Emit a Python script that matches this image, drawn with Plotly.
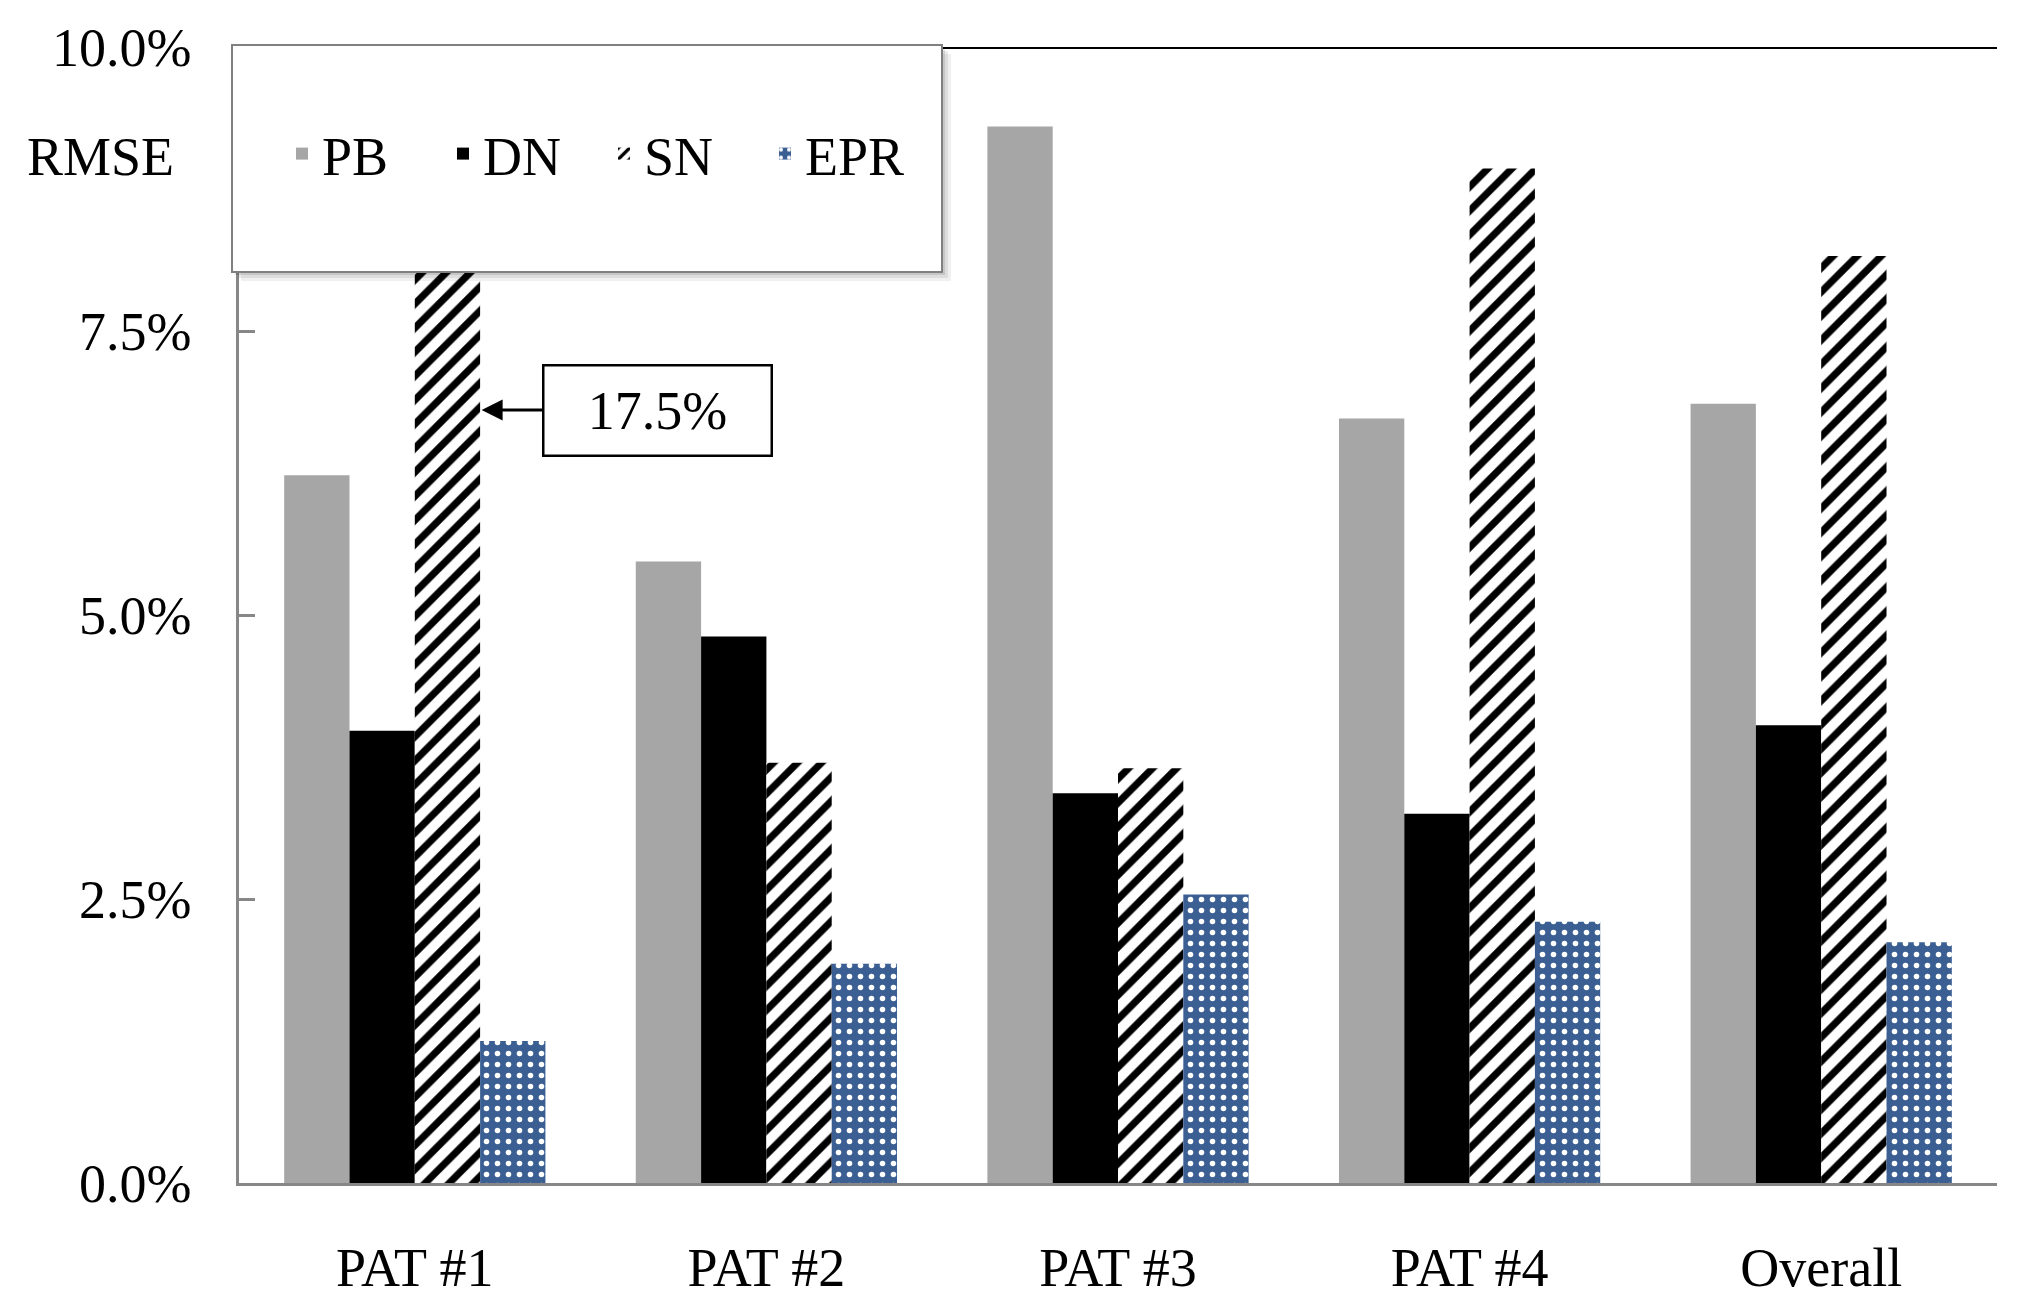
import plotly.graph_objects as go

categories = ["PAT #1", "PAT #2", "PAT #3", "PAT #4", "Overall"]
pb = [6.23, 5.47, 9.30, 6.73, 6.86]
dn = [3.98, 4.81, 3.43, 3.25, 4.03]
sn = [17.5, 3.70, 3.65, 8.93, 8.16]
epr = [1.25, 1.93, 2.54, 2.30, 2.12]
series_names = ["PB", "DN", "SN", "EPR"]
y_ticks = [0, 2.5, 5, 7.5, 10]
y_tick_labels = ["0.0%", "2.5%", "5.0%", "7.5%", "10.0%"]

FONT = "Liberation Serif, Times New Roman, serif"
FS = 54
GRAY = "#A6A6A6"
BLUE = "#3B5F92"
AXIS = "#878787"

fig = go.Figure()
fig.add_trace(go.Bar(name=series_names[0], x=categories, y=pb,
                     marker=dict(color=GRAY, line=dict(width=0))))
fig.add_trace(go.Bar(name=series_names[1], x=categories, y=dn,
                     marker=dict(color="#000000", line=dict(width=0))))
fig.add_trace(go.Bar(name=series_names[2], x=categories, y=sn,
                     marker=dict(color="#FFFFFF", line=dict(width=0),
                                 pattern=dict(shape="/", fgcolor="#000000", fgopacity=1,
                                              bgcolor="#FFFFFF", size=17,
                                              solidity=0.42))))
fig.add_trace(go.Bar(name=series_names[3], x=categories, y=epr,
                     marker=dict(color=BLUE, line=dict(width=0),
                                 pattern=dict(shape=".", fgcolor="#FFFFFF", fgopacity=1,
                                              bgcolor=BLUE, size=11,
                                              solidity=0.2))))

W, H = 2019, 1316
L, R, T, B = 239, 22, 47, 133
pw = W - L - R
ph = H - T - B

def px_x(v):
    return (v - L) / pw

def px_y(v):
    return (H - B - v) / ph

shapes = []
# top black line at 10%
shapes.append(dict(type="line", xref="paper", yref="y", x0=0, x1=1, y0=10, y1=10,
                   line=dict(color="#000000", width=4), layer="above"))
# legend shadow
for i, a in enumerate([0.10, 0.08, 0.06]):
    o = 3 * (i + 1)
    shapes.append(dict(type="rect", xref="paper", yref="paper",
                       x0=px_x(232 + o), x1=px_x(942 + o),
                       y0=px_y(272 + o), y1=px_y(45 + o),
                       fillcolor="rgba(0,0,0,%s)" % a, line=dict(width=0), layer="above"))
# legend box
shapes.append(dict(type="rect", xref="paper", yref="paper",
                   x0=px_x(232), x1=px_x(942), y0=px_y(272), y1=px_y(45),
                   fillcolor="#FFFFFF", line=dict(color="#808080", width=2), layer="above"))

annotations = [
    dict(text="RMSE", xref="paper", yref="paper", x=px_x(100), y=px_y(157),
         xanchor="center", yanchor="middle", showarrow=False,
         font=dict(family=FONT, size=FS, color="#000000")),
    dict(text="17.5%", xref="x", yref="y", x=0.19, y=(H - B - 410) / ph * 10,
         ax=176, ay=0, axref="pixel", ayref="pixel",
         showarrow=True, arrowhead=2, arrowsize=1.4, arrowwidth=3, arrowcolor="#000000",
         bordercolor="#000000", borderwidth=2.5, bgcolor="#FFFFFF",
         width=222, height=84, borderpad=2,
         font=dict(family=FONT, size=FS, color="#000000")),
]

fig.update_layout(
    width=W, height=H,
    margin=dict(l=L, r=R, t=T, b=B),
    paper_bgcolor="#FFFFFF", plot_bgcolor="#FFFFFF",
    barmode="group", bargap=0.257, bargroupgap=0,
    font=dict(family=FONT, size=FS, color="#000000"),
    showlegend=True,
    legend=dict(orientation="h", x=px_x(282), y=px_y(154), xanchor="left", yanchor="middle",
                bgcolor="rgba(0,0,0,0)", borderwidth=0,
                entrywidth=116, entrywidthmode="pixels",
                font=dict(family=FONT, size=FS, color="#000000"),
                traceorder="normal"),
    xaxis=dict(range=[-0.5, 4.5], showline=True, linecolor=AXIS, linewidth=2.5,
               ticks="", showgrid=False, zeroline=False, ticklabelstandoff=35,
               tickfont=dict(family=FONT, size=FS, color="#000000")),
    yaxis=dict(range=[0, 10], tickvals=y_ticks, ticktext=y_tick_labels,
               showline=True, linecolor=AXIS, linewidth=2.5, ticks="inside",
               ticklen=16, tickwidth=2.5, tickcolor=AXIS, showgrid=False, zeroline=False,
               ticklabelstandoff=34,
               tickfont=dict(family=FONT, size=FS, color="#000000")),
    shapes=shapes,
    annotations=annotations,
)

fig.write_html("out.html", config={"displayModeBar": False},
               post_script="document.body.style.margin='0px';document.body.style.overflow='hidden';")
